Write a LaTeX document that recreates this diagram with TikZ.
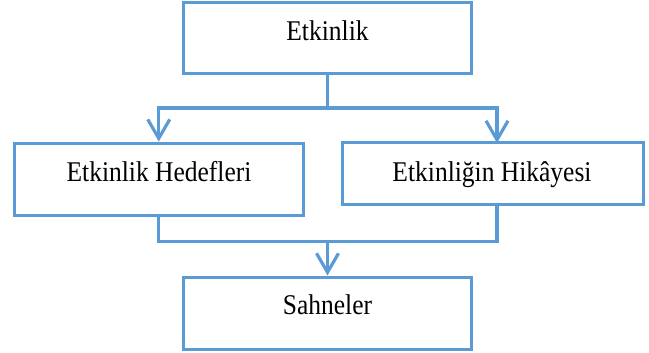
\documentclass[tikz,border=0pt]{standalone}
\usepackage{fontspec}
\setmainfont{Liberation Serif}
\usetikzlibrary{arrows.meta}
\definecolor{lineblue}{RGB}{91,155,213}
\tikzset{
  box/.style={draw=lineblue, line width=3pt, rectangle, inner sep=0pt},
  lbl/.style={anchor=base, inner sep=0pt, font=\fontsize{25.5}{28}\selectfont},
  conn/.style={draw=lineblue, line width=3.2pt},
  arr/.style={conn, -{Straight Barb[length=19pt,width=22pt,line width=3.2pt]}}
}
\newcommand{\tall}[1]{\scalebox{1}[1.12]{#1}}
\begin{document}
\begin{tikzpicture}[x=1pt,y=-1pt]
\useasboundingbox (0,0) rectangle (649,353);
\node[box, minimum width=287.5pt, minimum height=70.6pt] (top) at (327.5,38) {};
\node[box, minimum width=288.5pt, minimum height=72.7pt] (left) at (158.75,179.4) {};
\node[box, minimum width=301pt, minimum height=61pt] (right) at (492.5,173.5) {};
\node[box, minimum width=287.5pt, minimum height=72pt] (bottom) at (327.5,313) {};
\node[lbl] (ttop) at (327.5,41) {\tall{Etkinlik}};
\node[lbl] (tleft) at (159,181.5) {\tall{Etkinlik Hedefleri}};
\node[lbl] (tright) at (492,181.5) {\tall{Etkinliğin Hikâyesi}};
\node[lbl] (tbottom) at (327.5,314) {\tall{Sahneler}};
\coordinate (jt) at (327.5,108);
\coordinate (jb) at (327.5,241.7);
\coordinate (rn) at (497,143);
\coordinate (rs) at (497,204);
\draw[conn] (top.south) -- (jt);
\draw[arr] (jt) -| (left.north);
\draw[arr] (jt) -| (rn);
\draw[conn] (left.south) |- (jb) -| (rs);
\draw[arr] (jb) -- (bottom.north);
\end{tikzpicture}
\end{document}
